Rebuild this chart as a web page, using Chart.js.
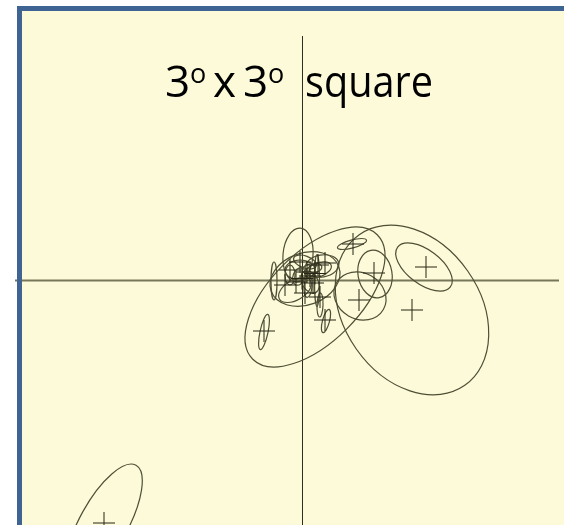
<!DOCTYPE html>
<html>
<head>
<meta charset="utf-8">
<script src="https://cdn.jsdelivr.net/npm/chart.js@4"></script>
<style>
  html, body { margin: 0; padding: 0; background: #ffffff; overflow: hidden; }
  #wrap { width: 564px; height: 525px; }
</style>
</head>
<body>
<div id="wrap"><canvas id="c" width="564" height="525"></canvas></div>
<script>
// ---- Data (offsets in degrees-like units from the field centre) ----
const titleParts = ["3", "o", "x", "3", "o", "square"];

// Cross (source position) data
const crossX = [1.24, 1.10, 0.72, 0.57, 0.51, -0.38, 0.23, -1.98,
                -0.02, 0.05, -0.06, 0.11, 0.16, -0.12, 0.03, 0.18, -0.17, 0.08, 0.00, 0.13, 0.23];
const crossY = [0.135, -0.295, 0.075, -0.195, 0.365, -0.505, -0.395, -2.425,
                0.185, 0.085, -0.015, -0.025, 0.155, 0.105, -0.125, -0.165, -0.045, 0.045, 0.02, 0.07, 0.175];

// Error ellipses: centre, semi-major, semi-minor, angle (deg, counter-clockwise)
const ellCX = [1.22, 1.10, 0.73, 0.58, 0.50, -0.38, 0.24, -1.98, 0.13, -0.04, 0.03, -0.28,
               -0.02, 0.08, -0.07, 0.16, -0.12, 0.18, 0.03, 0.10, -0.03, 0.06, 0.20, 0.15];
const ellCY = [0.135, -0.295, 0.065, -0.155, 0.365, -0.515, -0.405, -2.425, -0.165, 0.255, 0.015, -0.005,
               0.105, -0.015, -0.095, 0.105, 0.055, -0.245, 0.185, 0.12, 0.04, -0.06, 0.145, 0.00];
const ellA  = [0.33, 0.92, 0.24, 0.27, 0.15, 0.18, 0.12, 0.66, 0.88, 0.27, 0.36, 0.19,
               0.15, 0.12, 0.18, 0.14, 0.10, 0.12, 0.12, 0.10, 0.09, 0.11, 0.17, 0.26];
const ellB  = [0.17, 0.68, 0.17, 0.23, 0.04, 0.04, 0.035, 0.24, 0.45, 0.15, 0.26, 0.03,
               0.10, 0.08, 0.10, 0.07, 0.05, 0.03, 0.06, 0.05, 0.06, 0.04, 0.11, 0.025];
const ellAng = [-37, -55, -80, -30, 15, 78, 75, 61, 45, 85, 20, 90,
                0, -60, 30, 20, 90, 88, -20, 10, 70, 85, 10, 90];

// Axis extents (data units)
const xMin = -3.02, xMax = 2.62, yMin = -2.445, yMax = 2.805;
const hAxisFrom = -2.87, hAxisTo = 2.57;   // horizontal reference line
const vAxisTop = 2.445;                     // vertical reference line top

// ---- Styles ----
const BG = '#fcfad8';
const FRAME = '#3f6392';
const ELL_COLOR = '#4f4f36';
const CROSS_COLOR = '#262617';

const points = crossX.map((x, i) => ({ x: x, y: crossY[i] }));

const framePlugin = {
  id: 'frame',
  beforeDraw(chart) {
    const ctx = chart.ctx;
    ctx.save();
    ctx.fillStyle = '#ffffff';
    ctx.fillRect(0, 0, chart.width, chart.height);
    ctx.fillStyle = BG;
    ctx.fillRect(22, 11, chart.width - 22, chart.height - 11);
    ctx.restore();
  },
  beforeDatasetsDraw(chart) {
    const ctx = chart.ctx, xs = chart.scales.x, ys = chart.scales.y;
    ctx.save();
    // horizontal reference line
    ctx.strokeStyle = '#76765a';
    ctx.lineWidth = 2;
    ctx.beginPath();
    const y0 = ys.getPixelForValue(0);
    ctx.moveTo(xs.getPixelForValue(hAxisFrom), y0);
    ctx.lineTo(xs.getPixelForValue(hAxisTo), y0);
    ctx.stroke();
    // vertical reference line
    ctx.strokeStyle = '#2e2e20';
    ctx.lineWidth = 1;
    ctx.beginPath();
    const x0 = Math.round(xs.getPixelForValue(0)) + 0.5;
    ctx.moveTo(x0, ys.getPixelForValue(vAxisTop));
    ctx.lineTo(x0, ys.getPixelForValue(yMin));
    ctx.stroke();
    // error ellipses
    ctx.strokeStyle = ELL_COLOR;
    ctx.lineWidth = 1.2;
    for (let i = 0; i < ellCX.length; i++) {
      const cx = xs.getPixelForValue(ellCX[i]);
      const cy = ys.getPixelForValue(ellCY[i]);
      const rx = Math.abs(xs.getPixelForValue(ellCX[i] + ellA[i]) - xs.getPixelForValue(ellCX[i]));
      const ry = Math.abs(ys.getPixelForValue(ellCY[i] + ellB[i]) - ys.getPixelForValue(ellCY[i]));
      ctx.beginPath();
      ctx.ellipse(cx, cy, rx, ry, -ellAng[i] * Math.PI / 180, 0, Math.PI * 2);
      ctx.stroke();
    }
    ctx.restore();
  },
  afterDraw(chart) {
    const ctx = chart.ctx;
    ctx.save();
    // title
    ctx.fillStyle = '#000000';
    ctx.textBaseline = 'alphabetic';
    const big = '44px "Open Sans", "Liberation Sans", sans-serif';
    const small = '27px "Open Sans", "Liberation Sans", sans-serif';
    const base = 97, supBase = 83;
    ctx.font = big;   ctx.fillText(titleParts[0], 165, base);
    ctx.font = small; ctx.fillText(titleParts[1], 190, supBase);
    ctx.font = big;   ctx.fillText(titleParts[2], 213, base);
    ctx.font = big;   ctx.fillText(titleParts[3], 243, base);
    ctx.font = small; ctx.fillText(titleParts[4], 268, supBase);
    ctx.font = big;   ctx.fillText(titleParts[5], 305, base, 128);
    // frame border (top and left)
    ctx.fillStyle = FRAME;
    ctx.fillRect(17, 6, 5, chart.height - 6);
    ctx.fillRect(17, 6, chart.width - 17, 5);
    ctx.restore();
  }
};

new Chart(document.getElementById('c'), {
  type: 'scatter',
  data: {
    datasets: [{
      data: points,
      pointStyle: 'cross',
      pointRadius: 11,
      pointHoverRadius: 11,
      borderColor: CROSS_COLOR,
      backgroundColor: CROSS_COLOR,
      pointBorderWidth: 1,
      showLine: false,
      clip: false
    }]
  },
  options: {
    responsive: false,
    devicePixelRatio: 1,
    animation: false,
    layout: { padding: 0, autoPadding: false },
    plugins: { legend: { display: false }, tooltip: { enabled: false }, title: { display: false } },
    scales: {
      x: { type: 'linear', display: false, min: xMin, max: xMax },
      y: { type: 'linear', display: false, min: yMin, max: yMax }
    }
  },
  plugins: [framePlugin]
});
</script>
</body>
</html>
